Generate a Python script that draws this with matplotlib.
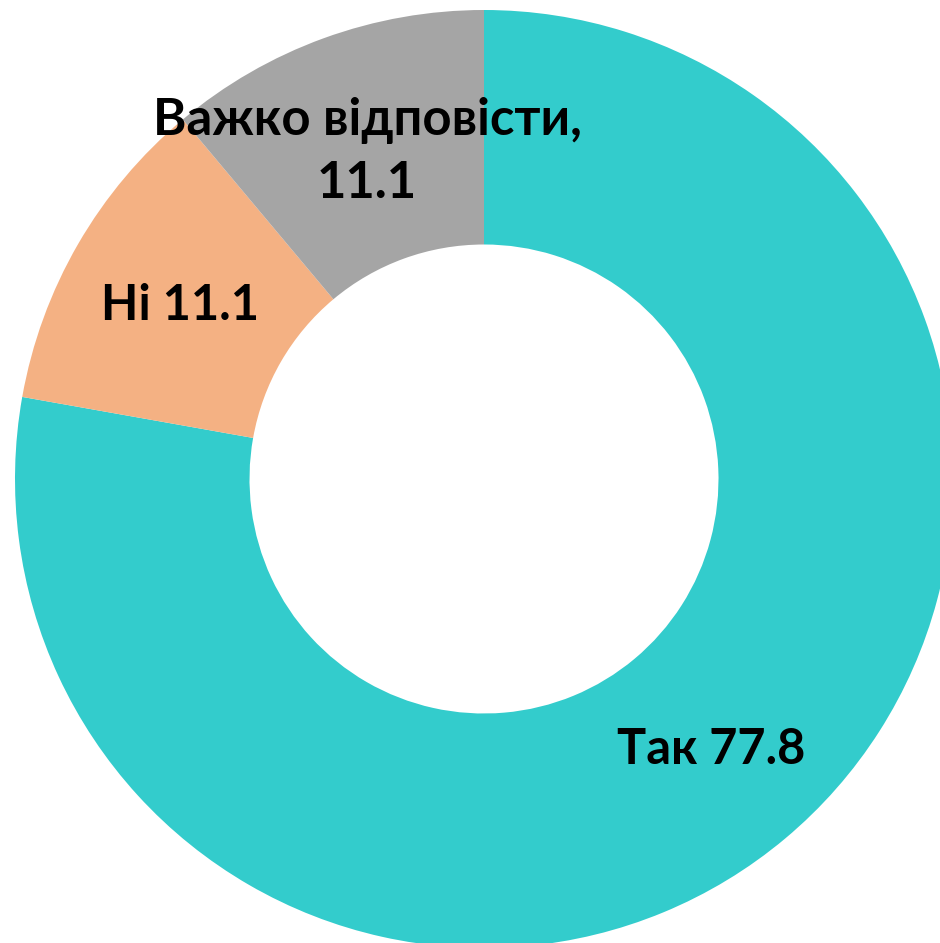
import matplotlib
matplotlib.use('Agg')
import matplotlib.pyplot as plt

labels = ['Так', 'Ні', 'Важко відповісти,']
values = [77.8, 11.1, 11.1]
colors = ['#33CCCC', '#F4B183', '#A5A5A5']

W, H = 940, 943
cx, cy, r = 484, 479, 469

fig = plt.figure(figsize=(W / 100, H / 100), dpi=100)
ax = fig.add_axes([0, 0, 1, 1])
ax.pie(values, colors=colors, startangle=90, counterclock=False, radius=1,
       wedgeprops=dict(width=0.5, linewidth=0))
ax.set_xlim(-cx / r, (W - cx) / r)
ax.set_ylim(-(H - cy) / r, cy / r)
ax.set_aspect('auto')
ax.axis('off')


def px(x, y):
    return (x - cx) / r, (cy - y) / r


font = dict(family=['Lato', 'DejaVu Sans'], fontweight='bold', fontsize=35,
            color='black', ha='center', va='center')
ax.text(*px(711, 750), f'{labels[0]} {values[0]}', **font)
ax.text(*px(180, 305), f'{labels[1]} {values[1]}', **font)
ax.text(*px(367, 152), f'{labels[2]}\n{values[2]}', multialignment='center',
        linespacing=1.4, fontsize=36.5,
        **{k: v for k, v in font.items() if k != 'fontsize'})

fig.savefig('out.png', dpi=100)
